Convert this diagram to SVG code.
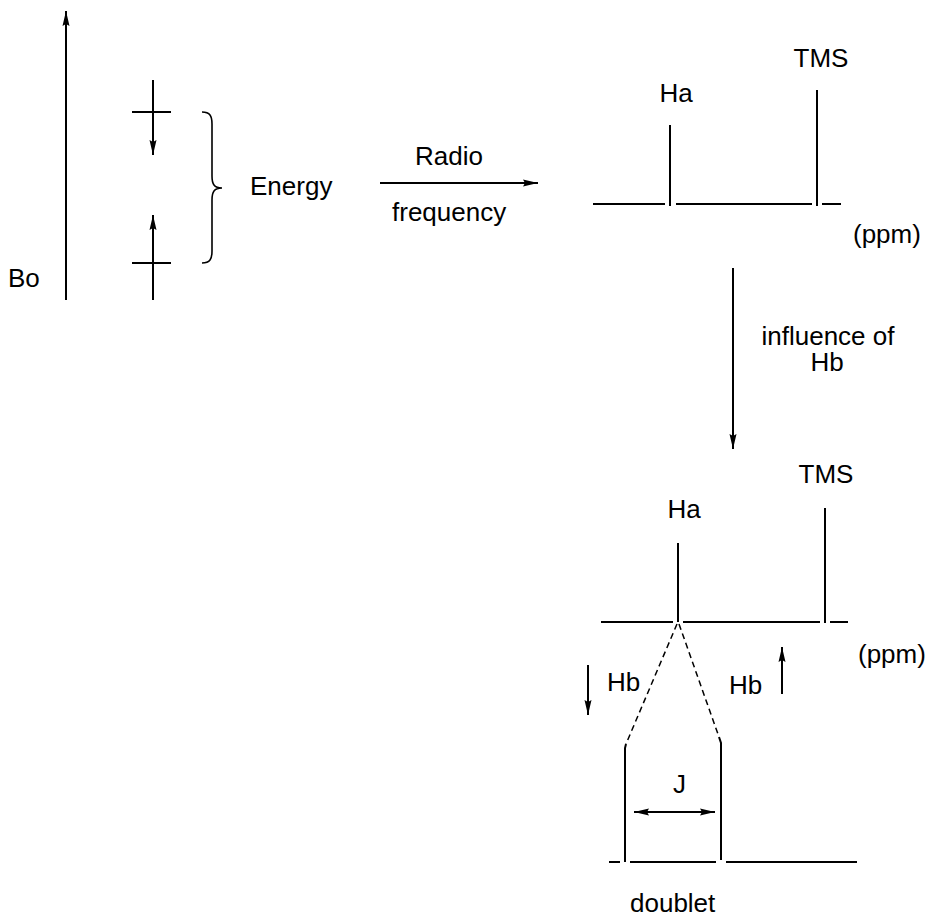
<svg xmlns="http://www.w3.org/2000/svg" width="932" height="918" viewBox="0 0 932 918">
<defs>
<marker id="ah" markerUnits="userSpaceOnUse" markerWidth="16" markerHeight="8" refX="15" refY="3.5" orient="auto-start-reverse" viewBox="0 0 16 7">
<path d="M0,0 L15,3.5 L0,7 L2,3.5 z" fill="#000"/>
</marker>
</defs>
<style>
text{font-family:"Liberation Sans",Arial,Helvetica,sans-serif;font-size:26px;fill:#000}
.ln{stroke:#000;stroke-width:2;fill:none}
.dash{stroke:#000;stroke-width:1.5;fill:none;stroke-dasharray:6 4}
.arr{stroke:#000;stroke-width:2;fill:none;marker-end:url(#ah)}
.mid{text-anchor:middle}
</style>
<rect width="932" height="918" fill="#fff"/>
<g id="field">
<line class="arr" x1="66" y1="300" x2="66" y2="11"/>
<text x="8" y="287">Bo</text>
</g>
<g id="spins">
<line class="ln" x1="132" y1="112" x2="171" y2="112"/>
<line class="arr" x1="153" y1="80" x2="153" y2="155"/>
<line class="ln" x1="132" y1="263" x2="171" y2="263"/>
<line class="arr" x1="153" y1="300" x2="153" y2="215"/>
<path class="ln" style="stroke-width:1.6" d="M202,112 C210,112 212,116 212,124 L212,176 C212,184 214,188 222,188 C214,188 212,192 212,200 L212,251 C212,259 210,263 202,263"/>
<text x="250" y="195">Energy</text>
</g>
<g id="spectrum1">
<line class="ln" x1="593" y1="204" x2="665" y2="204"/>
<line class="ln" x1="676" y1="204" x2="812" y2="204"/>
<line class="ln" x1="822" y1="204" x2="841" y2="204"/>
<line class="ln" x1="670" y1="125" x2="670" y2="206"/>
<line class="ln" x1="817" y1="90" x2="817" y2="206"/>
<text class="mid" x="676" y="102">Ha</text>
<text class="mid" x="821" y="67">TMS</text>
<text x="853" y="243">(ppm)</text>
</g>
<g id="spectrum2">
<line class="ln" x1="601" y1="622" x2="673" y2="622"/>
<line class="ln" x1="683" y1="622" x2="820" y2="622"/>
<line class="ln" x1="830" y1="622" x2="848" y2="622"/>
<line class="ln" x1="678" y1="543" x2="678" y2="622"/>
<line class="ln" x1="825" y1="508" x2="825" y2="623"/>
<text class="mid" x="684" y="518">Ha</text>
<text class="mid" x="826" y="483">TMS</text>
<text x="858" y="663">(ppm)</text>
</g>
<g id="doublet">
<line class="ln" x1="609" y1="862" x2="620" y2="862"/>
<line class="ln" x1="630" y1="862" x2="716" y2="862"/>
<line class="ln" x1="726" y1="862" x2="857" y2="862"/>
<path class="ln" d="M626,744 L625,748 V862"/>
<path class="ln" d="M719,737 L721,743 V860"/>
<text x="673" y="793">J</text>
<text x="630" y="912">doublet</text>
</g>
<g id="connectors">
<line class="arr" x1="380" y1="183" x2="538" y2="183"/>
<text x="415" y="165">Radio</text>
<text x="392" y="221">frequency</text>
<line class="arr" x1="733" y1="268" x2="733" y2="449"/>
<text class="mid" x="828" y="345">influence of</text>
<text class="mid" x="827" y="371">Hb</text>
<path class="dash" d="M677,624 L626,744"/>
<path class="dash" d="M679,624 L719,737"/>
<line class="arr" x1="588" y1="665" x2="588" y2="715"/>
<text x="607" y="691">Hb</text>
<line class="arr" x1="782" y1="694" x2="782" y2="647"/>
<text x="729" y="694">Hb</text>
<line class="arr" style="marker-start:url(#ah)" x1="634" y1="812" x2="715" y2="812"/>
</g>
</svg>
